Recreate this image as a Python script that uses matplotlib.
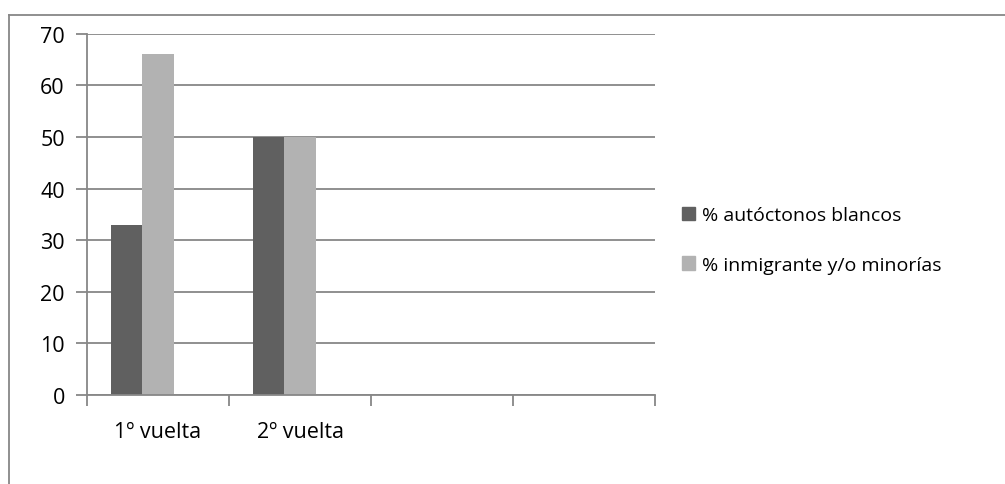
import numpy as np
import matplotlib
matplotlib.use("Agg")
import matplotlib.pyplot as plt
from matplotlib.patches import Patch
from matplotlib.lines import Line2D

# datos
categorias = ['1º vuelta', '2º vuelta', '', '']
autoctonos = [33, 50, np.nan, np.nan]
inmigrantes = [66, 50, np.nan, np.nan]
series_nombres = ['% autóctonos blancos', '% inmigrante y/o minorías']
yticks = [0, 10, 20, 30, 40, 50, 60, 70]

c_oscuro = '#606060'
c_claro = '#b2b2b2'
c_gris = '#878787'

plt.rcParams['font.family'] = ['Open Sans', 'DejaVu Sans']
fs = 15.5

W, H = 1005, 485
fig = plt.figure(figsize=(W / 100, H / 100), dpi=100)
ax = fig.add_axes([87 / W, 1 - 396 / H, (655 - 87) / W, (396 - 34.7) / H])

x = np.arange(len(categorias))
# estilo Excel: 3 huecos por categoría (el tercero vacío), separación 150%
ancho = 1 / (3 + 1.5)
ax.bar(x - ancho, autoctonos, ancho, color=c_oscuro, label=series_nombres[0])
ax.bar(x, inmigrantes, ancho, color=c_claro, label=series_nombres[1])

ax.set_xlim(-0.5, len(categorias) - 0.5)
ax.set_ylim(0, 70)
ax.set_yticks(yticks)
ax.yaxis.grid(True, color=c_gris, linewidth=1.3)
ax.set_axisbelow(True)

ax.set_xticks(np.arange(len(categorias) + 1) - 0.5)
ax.set_xticklabels([])
ax.set_xticks(x, minor=True)
ax.set_xticklabels(categorias, minor=True, fontsize=fs)
ax.tick_params(axis='x', which='major', length=8, width=1.3, color=c_gris, direction='out')
ax.tick_params(axis='x', which='minor', length=0, pad=19)
ax.tick_params(axis='y', length=8, width=1.3, color=c_gris, labelsize=fs, pad=8)

for s in ['top', 'right']:
    ax.spines[s].set_visible(False)
for s in ['left', 'bottom']:
    ax.spines[s].set_color(c_gris)
    ax.spines[s].set_linewidth(1.3)

handles = [Patch(color=c_oscuro), Patch(color=c_claro)]
fig.legend(handles, series_nombres, loc='center left', bbox_to_anchor=(682 / W, 1 - 241 / H),
           frameon=False, fontsize=14, borderpad=0, borderaxespad=0,
           handlelength=0.67, handleheight=0.67,
           handletextpad=0.36, labelspacing=1.62)

# marco del gráfico
fig.add_artist(Line2D([8.5 / W, 8.5 / W], [0, 1 - 15.5 / H], color=c_gris, linewidth=1.3))
fig.add_artist(Line2D([8.5 / W, 1], [1 - 15.5 / H, 1 - 15.5 / H], color=c_gris, linewidth=1.3))

fig.savefig('out.png', dpi=100)
